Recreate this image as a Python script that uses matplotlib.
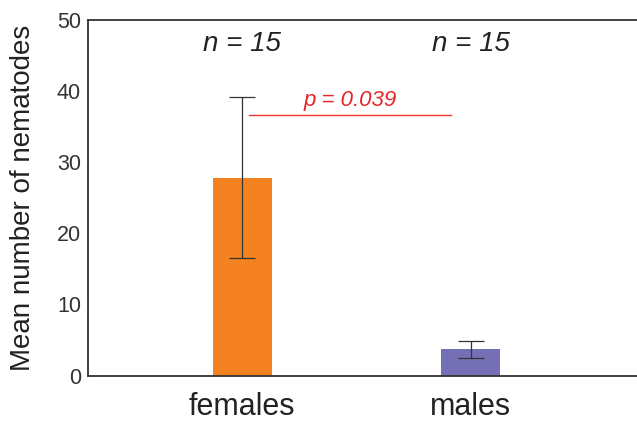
import numpy as np
import matplotlib
matplotlib.use("Agg")
import matplotlib.pyplot as plt

plt.rcParams['font.family'] = ['Liberation Sans', 'DejaVu Sans']

groups = ['females', 'males']
means = [27.8, 3.7]
errs = [11.3, 1.2]
n_labels = ['n = 15', 'n = 15']
bar_colors = ['#F58220', '#7570B5']
p_text = 'p = 0.039'
p_level = 36.6

fig = plt.figure(figsize=(6.37, 4.21), dpi=100)
ax = fig.add_axes([0.138, 0.108, 0.924, 0.8456])

x = np.arange(len(groups))
ax.bar(x, means, width=0.258, color=bar_colors, zorder=2)
ax.errorbar(x, means, yerr=errs, fmt='none', ecolor='#333333',
            elinewidth=0.9, capsize=9.5, capthick=0.9, zorder=3)

for xi, lab in zip(x, n_labels):
    ax.text(xi, 46.5, lab, ha='center', va='center', fontsize=20,
            style='italic', color='#222222')

# significance line
ax.plot([0.028, 0.915], [p_level, p_level], color='#EE3B2E', lw=1.0)
ax.text(0.47, 37.2, p_text, ha='center', va='bottom', fontsize=16,
        style='italic', color='#E3262A')

ax.set_xlim(-0.676, 1.9)
ax.set_ylim(0, 50)
ax.set_yticks(np.arange(0, 51, 10))
ax.set_xticks(x)
ax.set_xticklabels(groups, fontsize=22, color='#222222')
ax.tick_params(axis='y', length=0, labelsize=15.5, labelcolor='#333333', pad=5)
ax.tick_params(axis='x', length=0, pad=12)
ax.set_ylabel('Mean number of nematodes', fontsize=20, color='#222222', labelpad=15)

for s in ['left', 'top', 'bottom']:
    ax.spines[s].set_color('#333333')
    ax.spines[s].set_linewidth(1.3)
ax.spines['right'].set_visible(False)

fig.savefig('out.png', dpi=100)
